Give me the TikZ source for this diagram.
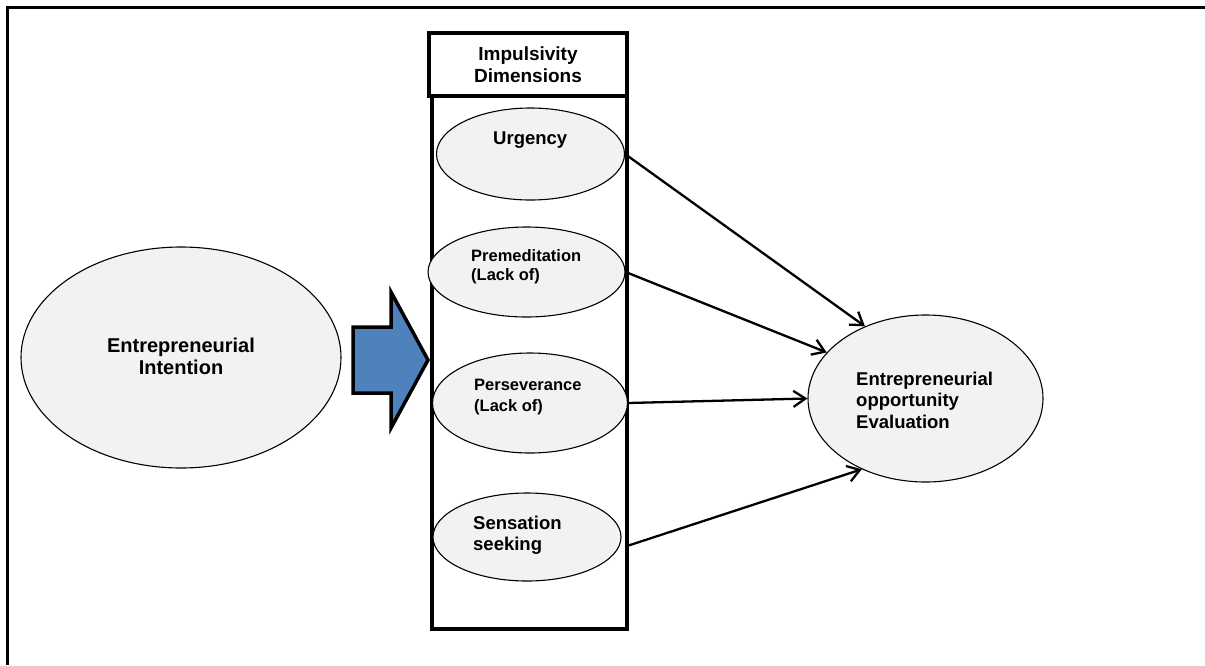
\documentclass[tikz,border=0pt]{standalone}
\usepackage{fontspec}
\setmainfont{Liberation Sans}
\usetikzlibrary{shapes.geometric,arrows.meta}
\definecolor{ellfill}{HTML}{F2F2F2}
\definecolor{bigarrow}{HTML}{4F81BD}
\begin{document}
\begin{tikzpicture}[x=1pt,y=-1pt,
  ell/.style={ellipse,draw=black,line width=1.1pt,fill=ellfill,inner sep=0pt},
  lbl/.style={align=left,inner sep=0pt,font=\bfseries},
  link/.style={line width=2.3pt,-{Straight Barb[length=12pt,width=16pt,line width=2.3pt]}}]
\useasboundingbox (0,0) rectangle (1205,665);
% outer frame (left and top edges)
\draw[line width=3pt] (7,665) -- (7,7) -- (1205,7);
% impulsivity column
\node[draw,line width=3.5pt,minimum width=198pt,minimum height=63pt,inner sep=0pt,
      align=center,font=\bfseries\fontsize{19}{22}\selectfont] (title) at (528,64.5)
      {Impulsivity\\Dimensions};
\draw[line width=3.5pt] (432,96) rectangle (627,629);
% ellipses in the column
\node[ell,minimum width=188pt,minimum height=92pt] (urg) at (530.5,154) {};
\node[ell,minimum width=197pt,minimum height=90pt] (pre) at (526.5,272) {};
\node[ell,minimum width=195pt,minimum height=100pt] (per) at (530,403) {};
\node[ell,minimum width=188pt,minimum height=88pt] (sen) at (527,537) {};
\node[lbl,anchor=west,font=\bfseries\fontsize{18.5}{21}\selectfont] (urgt) at (493,140) {Urgency};
\node[lbl,anchor=west,font=\bfseries\fontsize{16.5}{19}\selectfont] (pret) at (471,267) {Premeditation\\(Lack of)};
\node[lbl,anchor=west,font=\bfseries\fontsize{16.5}{21}\selectfont] (pert) at (474,397) {Perseverance\\(Lack of)};
\node[lbl,anchor=west,font=\bfseries\fontsize{18.5}{21}\selectfont] (sent) at (473,535) {Sensation\\seeking};
% left and right constructs
\node[ell,minimum width=320pt,minimum height=221pt] (ei) at (181,357.5) {};
\node[lbl,align=center,font=\bfseries\fontsize{20}{22}\selectfont] (eit) at (181,356) {Entrepreneurial\\Intention};
\node[ell,minimum width=235pt,minimum height=167pt] (eoe) at (925.5,398.5) {};
\node[lbl,anchor=west,font=\bfseries\fontsize{18.5}{21.5}\selectfont] (eoet) at (856,400) {Entrepreneurial\\opportunity\\Evaluation};
% block arrow into the column
\draw[line width=3.5pt,fill=bigarrow,line join=miter]
  (353,327) -- (391,327) -- (391,292) -- (428,360) -- (391,428) -- (391,393) -- (353,393) -- cycle;
% paths to the evaluation construct
\coordinate (senout) at (627,546);
\draw[link] (urg.east) -- (eoe.130);
\draw[link] (pre.east) -- (eoe.155);
\draw[link] (per.east) -- (eoe.180);
\draw[link] (senout) -- (eoe.228);
\end{tikzpicture}
\end{document}
